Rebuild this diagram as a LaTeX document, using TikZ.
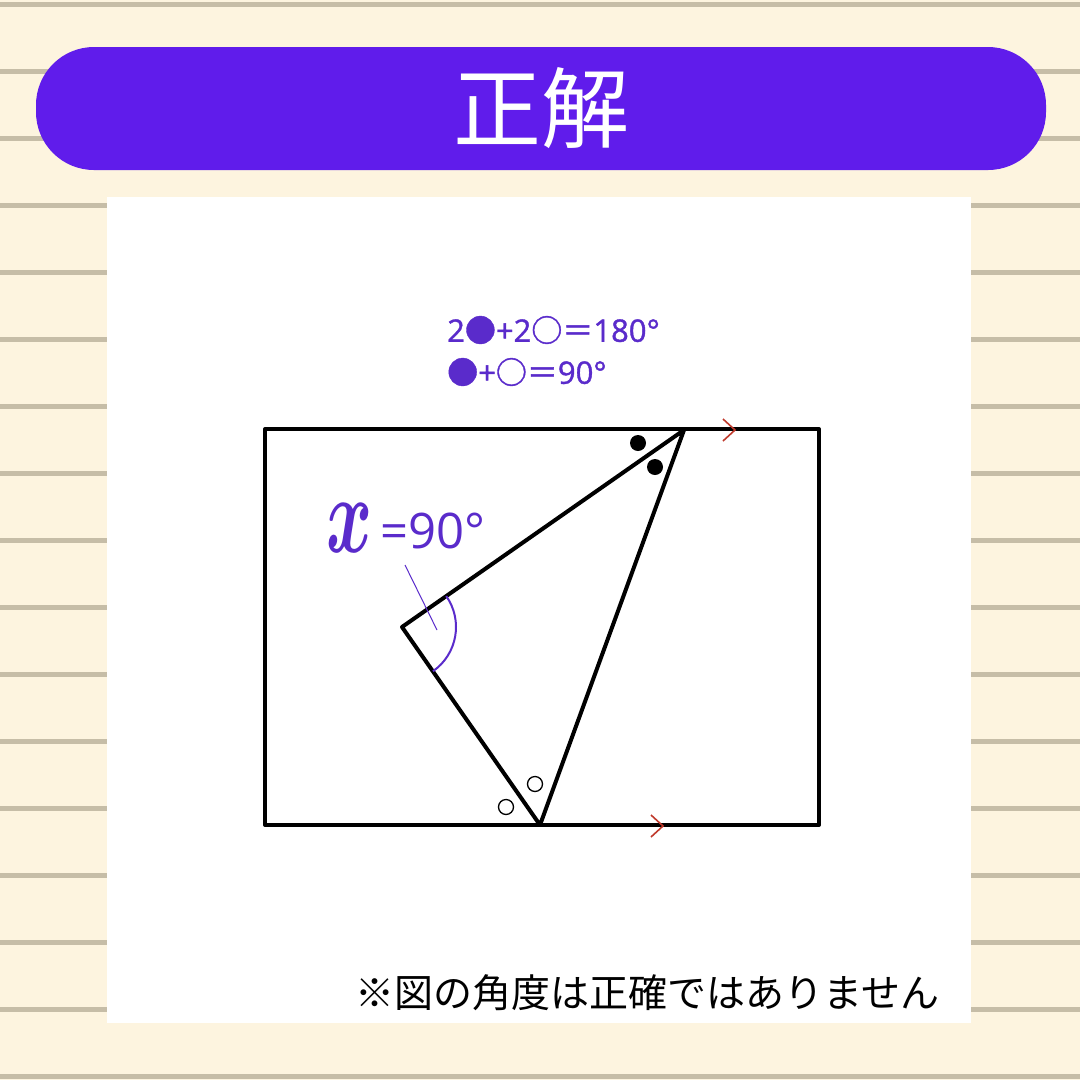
\documentclass[tikz,border=0pt]{standalone}
\usepackage{amsmath}
\usepackage{fontspec}
\setmainfont{Noto Sans CJK JP}
\newfontfamily\jp{Noto Sans CJK JP}
\newfontfamily\jpb{Noto Sans CJK JP}[FakeBold=1.2]
\newfontfamily\osans{Open Sans}
\newfontfamily\osansb{Open Sans}[FakeBold=1.2]
\definecolor{bgcream}{HTML}{FDF4DF}
\definecolor{ruleline}{HTML}{C6BDA7}
\definecolor{banner}{HTML}{601CEB}
\definecolor{purpletext}{HTML}{5A2BCB}
\definecolor{chev}{HTML}{C0392B}
\tikzset{
  edge/.style={line width=4pt, line join=round, line cap=round},
  chevron/.style={chev, line width=1.6pt},
  purp/.style={purpletext}
}
\begin{document}
\begin{tikzpicture}[x=1pt,y=-1pt]
\useasboundingbox (0,0) rectangle (1080,1080);
\fill[bgcream] (0,0) rectangle (1080,1080);
\foreach \k in {0,...,16} {
  \fill[ruleline] (0,{1.5+67*\k}) rectangle (1080,{6.5+67*\k});
}
% banner
\fill[banner, rounded corners=58pt] (36,47) rectangle (1046,170);
\node[text=white, font=\jp\fontsize{88}{92}\selectfont] (title) at (541,108) {正解};
% white panel
\fill[white] (107,197) rectangle (971,1023);
% formulas
\node[purp, anchor=west, inner sep=0, font=\fontsize{31}{34}\selectfont] (f1) at (447,330)
  {{\osansb 2}{\jpb ●}{\osansb +2}{\jpb ○＝}{\osansb 180°}};
\node[purp, anchor=west, inner sep=0, font=\fontsize{31}{34}\selectfont] (f2) at (447,372)
  {{\jpb ●}{\osansb +}{\jpb ○＝}{\osansb 90°}};
% rectangle
\coordinate (TL) at (265,429);
\coordinate (BR) at (819,825);
\draw[edge] (TL) rectangle (BR);
% triangle
\coordinate (A) at (684,430);
\coordinate (B) at (402,627);
\coordinate (C) at (540,825);
\draw[edge] (A) -- (B) -- (C) -- cycle;
% chevrons
\coordinate (ch1) at (735,430);
\coordinate (ch2) at (663,826);
\draw[chevron] ([shift={(-12,-11)}]ch1) -- (ch1) -- ([shift={(-12,11)}]ch1);
\draw[chevron] ([shift={(-12,-11)}]ch2) -- (ch2) -- ([shift={(-12,11)}]ch2);
% dots
\fill[black] (638,443) circle (8);
\fill[black] (655,467) circle (8);
\draw[black, line width=1.3pt] (535,784) circle (7.5);
\draw[black, line width=1.3pt] (506,807) circle (7.5);
% angle arc
\draw[purp, line width=2pt] (B) ++(-35:54) arc[start angle=-35, end angle=55, radius=54];
\coordinate (ptr1) at (405,565);
\coordinate (ptr2) at (437,630);
\draw[purp, line width=1pt] (ptr1) -- (ptr2);
% x = 90
\node[purp, anchor=center, xscale=7, yscale=11, inner sep=0] (xv) at (350,528) {$\boldsymbol{x}$};
\node[purp, anchor=base west, font=\osans\fontsize{49}{52}\selectfont, inner sep=0] (xeq) at (380,548) {=90°};
% note
\node[black, anchor=west, font=\jp\fontsize{39}{42}\selectfont, inner sep=0] (note) at (355,993) {※図の角度は正確ではありません};
\end{tikzpicture}
\end{document}
